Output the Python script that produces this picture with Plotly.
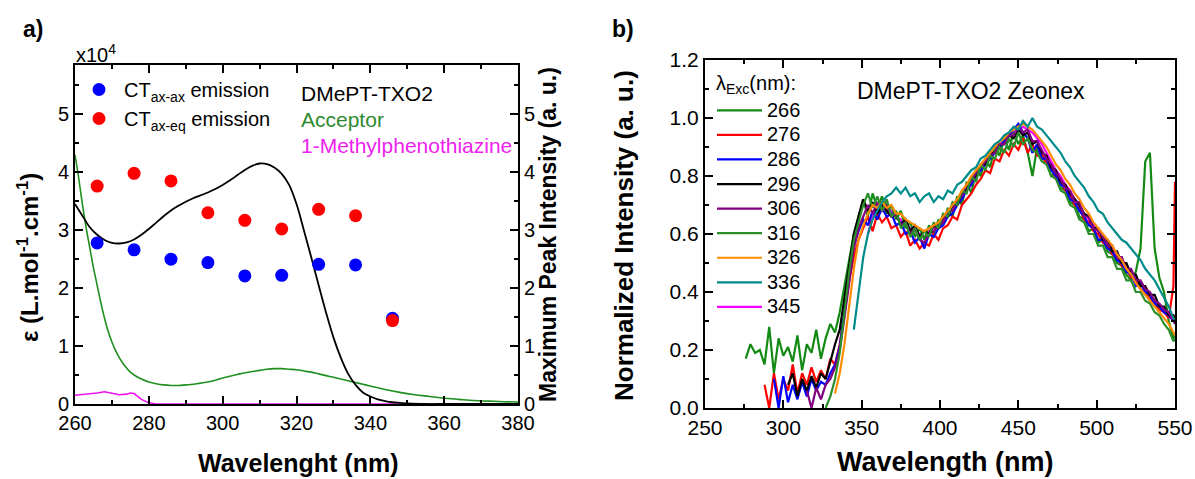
import plotly.graph_objects as go

# ---------------- Panel a data ----------------
txo2_wl = [260, 262, 264, 266, 268, 270, 272, 274, 276, 278, 280, 282, 284, 286, 288, 290, 292, 294, 296, 298,
           300, 302, 304, 306, 308, 310, 312, 314, 316, 318, 320, 322, 324, 326, 328, 330, 332, 334, 336, 338,
           340, 342, 344, 346, 348, 350, 355, 360, 370, 380]
txo2_eps = [3.45, 3.25, 3.05, 2.92, 2.83, 2.78, 2.77, 2.79, 2.84, 2.92, 3.02, 3.13, 3.24, 3.34, 3.42, 3.49, 3.55,
            3.60, 3.65, 3.71, 3.78, 3.86, 3.95, 4.04, 4.11, 4.15, 4.14, 4.08, 3.97, 3.78, 3.45, 3.00, 2.53, 2.05,
            1.58, 1.15, 0.80, 0.52, 0.33, 0.20, 0.13, 0.08, 0.05, 0.03, 0.02, 0.01, 0.0, 0.0, 0.0, 0.0]

acc_wl = [260, 261, 262, 263, 264, 265, 266, 267, 268, 269, 270, 271, 272, 273, 274, 275, 276,
          278, 280, 282, 284, 286, 288, 290, 292, 294, 296, 298, 300, 302, 304, 306, 308, 310, 312, 314, 316,
          318, 320, 322, 324, 326, 328, 330, 332, 334, 336, 338, 340,
          344, 348, 352, 356, 360, 364, 368, 372, 376, 380]
acc_eps = [4.30, 3.90, 3.45, 3.05, 2.70, 2.35, 2.05, 1.75, 1.48, 1.25, 1.07, 0.92, 0.80, 0.70, 0.62, 0.55, 0.50,
           0.43, 0.38, 0.35, 0.33, 0.32, 0.32, 0.33, 0.34, 0.36, 0.38, 0.41, 0.45, 0.48, 0.51, 0.54, 0.56, 0.58,
           0.60, 0.61, 0.61, 0.60, 0.59, 0.57, 0.55, 0.52, 0.49, 0.46, 0.43, 0.40, 0.37, 0.34, 0.31,
           0.25, 0.20, 0.16, 0.13, 0.10, 0.08, 0.06, 0.05, 0.04, 0.035]

mpt_wl = [260, 262, 264, 266, 268, 270, 272, 274, 275, 276, 277, 278, 279, 280, 282, 290, 300, 320, 340, 360, 380]
mpt_eps = [0.15, 0.16, 0.17, 0.19, 0.21, 0.19, 0.16, 0.17, 0.19, 0.18, 0.13, 0.08, 0.05, 0.02, 0.0, 0.0, 0.0,
           0.0, 0.0, 0.0, 0.0]

exc_wl = [266, 276, 286, 296, 306, 316, 326, 336, 346]
ct_axax = [2.78, 2.66, 2.50, 2.44, 2.21, 2.22, 2.41, 2.40, 1.48]
ct_axeq = [3.76, 3.98, 3.85, 3.30, 3.17, 3.02, 3.36, 3.25, 1.44]

# ---------------- Panel b data ----------------
wl_grid = list(range(276, 550, 3)) + [550]

em_266 = [0.17, 0.22, 0.19, 0.20, 0.15, 0.28, 0.12, 0.24, 0.18, 0.21, 0.16, 0.25, 0.13, 0.22, 0.19, 0.27, 0.17,
          0.24, 0.29, 0.26,
          0.33, 0.42, 0.52, 0.60, 0.66, 0.72, 0.66, 0.74, 0.69, 0.73, 0.67, 0.70, 0.65, 0.68, 0.62, 0.64, 0.59,
          0.62, 0.58, 0.63, 0.60, 0.65,
          0.63, 0.69, 0.66, 0.73, 0.70, 0.78, 0.74, 0.82, 0.80, 0.86, 0.83, 0.90, 0.87, 0.93, 0.89, 0.95, 0.91,
          0.94, 0.88, 0.80, 0.90, 0.86,
          0.85, 0.80, 0.81, 0.76, 0.75, 0.71, 0.70, 0.66, 0.65, 0.61, 0.62, 0.57, 0.58, 0.54, 0.53, 0.50, 0.49,
          0.46, 0.44, 0.47, 0.55, 0.85,
          0.88, 0.55, 0.45, 0.40, 0.30, 0.24, 0.26]
em_276 = [0.08, 0.00, 0.12, 0.03, 0.10, 0.06, 0.15, 0.05, 0.12, 0.08, 0.14, 0.09, 0.13, 0.10, 0.17, 0.15,
          0.22, 0.33, 0.44, 0.52, 0.58, 0.62, 0.66, 0.61, 0.67, 0.64, 0.66, 0.62, 0.63, 0.59, 0.61, 0.56, 0.58,
          0.55, 0.57, 0.56, 0.60, 0.58,
          0.62, 0.63, 0.66, 0.65, 0.70, 0.72, 0.74, 0.77, 0.79, 0.82, 0.81, 0.86, 0.85, 0.89, 0.87, 0.91, 0.89,
          0.93, 0.88, 0.91, 0.87, 0.88,
          0.84, 0.83, 0.79, 0.78, 0.75, 0.73, 0.70, 0.69, 0.65, 0.64, 0.61, 0.60, 0.57, 0.56, 0.53, 0.52, 0.49,
          0.48, 0.45, 0.44, 0.41, 0.40,
          0.38, 0.36, 0.34, 0.33, 0.31, 0.42, 0.78]
em_286 = [0.10, 0.00, 0.11, 0.02, 0.08, 0.03, 0.09, 0.04, 0.10, 0.06, 0.09, 0.08, 0.12, 0.15,
          0.21, 0.34, 0.46, 0.56, 0.61, 0.65, 0.63, 0.68, 0.65, 0.69, 0.66, 0.67, 0.63, 0.64, 0.60, 0.61, 0.57,
          0.59, 0.55, 0.60, 0.59, 0.62,
          0.63, 0.66, 0.67, 0.70, 0.72, 0.75, 0.77, 0.80, 0.82, 0.84, 0.86, 0.88, 0.90, 0.92, 0.94, 0.96, 0.98,
          0.95, 0.93, 0.88, 0.91, 0.86,
          0.86, 0.82, 0.80, 0.77, 0.76, 0.72, 0.71, 0.68, 0.66, 0.63, 0.62, 0.58, 0.58, 0.55, 0.54, 0.51, 0.50,
          0.47, 0.46, 0.42, 0.43, 0.40,
          0.39, 0.36, 0.35, 0.33, 0.32, 0.30, 0.30]
em_296 = [0.08, 0.12, 0.04, 0.10, 0.06, 0.11, 0.07, 0.12, 0.10, 0.16, 0.22,
          0.27, 0.38, 0.50, 0.60, 0.66, 0.72, 0.68, 0.71, 0.67, 0.70, 0.68, 0.66, 0.67, 0.63, 0.65, 0.61, 0.63,
          0.59, 0.61, 0.60, 0.63, 0.62,
          0.66, 0.66, 0.70, 0.70, 0.74, 0.75, 0.79, 0.80, 0.84, 0.84, 0.88, 0.88, 0.91, 0.91, 0.94, 0.93, 0.96,
          0.94, 0.95, 0.91, 0.92, 0.88,
          0.87, 0.83, 0.82, 0.78, 0.77, 0.74, 0.72, 0.70, 0.67, 0.66, 0.62, 0.62, 0.58, 0.58, 0.54, 0.54, 0.50,
          0.50, 0.46, 0.46, 0.42, 0.42,
          0.39, 0.39, 0.35, 0.35, 0.32, 0.32, 0.31]
em_306 = [0.06, 0.00, 0.07, 0.03, 0.08, 0.10, 0.14,
          0.20, 0.31, 0.44, 0.55, 0.62, 0.66, 0.70, 0.67, 0.71, 0.68, 0.70, 0.66, 0.67, 0.63, 0.64, 0.60, 0.62,
          0.58, 0.57, 0.60, 0.61, 0.63,
          0.64, 0.68, 0.68, 0.72, 0.73, 0.77, 0.78, 0.81, 0.83, 0.85, 0.87, 0.88, 0.91, 0.91, 0.94, 0.94, 0.97,
          0.95, 0.96, 0.92, 0.92, 0.89,
          0.86, 0.84, 0.81, 0.79, 0.76, 0.75, 0.71, 0.71, 0.66, 0.66, 0.62, 0.61, 0.59, 0.56, 0.56, 0.52, 0.52,
          0.48, 0.48, 0.44, 0.44, 0.41,
          0.40, 0.37, 0.36, 0.34, 0.33, 0.30, 0.29]
em_316 = [0.00, 0.04, 0.10,
          0.19, 0.33, 0.47, 0.58, 0.64, 0.70, 0.74, 0.69, 0.73, 0.68, 0.72, 0.66, 0.68, 0.62, 0.64, 0.59, 0.62,
          0.58, 0.61, 0.59, 0.64, 0.62,
          0.67, 0.66, 0.71, 0.70, 0.75, 0.74, 0.80, 0.78, 0.84, 0.82, 0.87, 0.86, 0.90, 0.88, 0.93, 0.90, 0.95,
          0.91, 0.93, 0.89, 0.88, 0.85,
          0.84, 0.80, 0.79, 0.75, 0.74, 0.70, 0.69, 0.65, 0.64, 0.60, 0.60, 0.56, 0.56, 0.52, 0.52, 0.48, 0.48,
          0.44, 0.44, 0.40, 0.40, 0.37,
          0.36, 0.33, 0.32, 0.29, 0.27, 0.23, 0.24]
em_326 = [0.05,
          0.12, 0.22, 0.36, 0.48, 0.58, 0.63, 0.67, 0.70, 0.69, 0.71, 0.69, 0.70, 0.67, 0.67, 0.65, 0.64, 0.63,
          0.62, 0.61, 0.62, 0.63, 0.64,
          0.66, 0.68, 0.70, 0.72, 0.75, 0.77, 0.80, 0.82, 0.84, 0.86, 0.88, 0.90, 0.92, 0.93, 0.95, 0.96, 0.97,
          0.98, 0.97, 0.96, 0.94, 0.92,
          0.90, 0.87, 0.84, 0.82, 0.79, 0.77, 0.74, 0.72, 0.69, 0.67, 0.64, 0.62, 0.60, 0.58, 0.56, 0.53, 0.51,
          0.48, 0.46, 0.43, 0.41, 0.39,
          0.37, 0.35, 0.33, 0.31, 0.29, 0.26, 0.25]
em_336 = [0.27, 0.40, 0.52, 0.60, 0.65, 0.68, 0.71, 0.73, 0.74, 0.76, 0.74, 0.76, 0.73, 0.74, 0.71, 0.73, 0.74,
          0.71, 0.73,
          0.72, 0.75, 0.74, 0.77, 0.78, 0.80, 0.82, 0.83, 0.86, 0.87, 0.89, 0.91, 0.92, 0.94, 0.95, 0.97, 0.96,
          0.99, 0.97, 1.00, 0.97, 0.96,
          0.94, 0.92, 0.90, 0.88, 0.85, 0.83, 0.80, 0.78, 0.76, 0.73, 0.71, 0.68, 0.67, 0.64, 0.62, 0.60, 0.58,
          0.57, 0.55, 0.53, 0.51, 0.48,
          0.46, 0.44, 0.41, 0.38, 0.35, 0.31, 0.30]
em_345 = [0.60, 0.66, 0.69, 0.70, 0.69, 0.68, 0.66, 0.65, 0.63, 0.62, 0.61, 0.60, 0.59, 0.61, 0.62, 0.63,
          0.65, 0.67, 0.69, 0.71, 0.74, 0.76, 0.79, 0.81, 0.83, 0.85, 0.87, 0.89, 0.91, 0.92, 0.94, 0.95, 0.96,
          0.97, 0.96, 0.95, 0.93, 0.91,
          0.88, 0.85, 0.82, 0.80, 0.77, 0.75, 0.72, 0.70, 0.67, 0.65, 0.63, 0.61, 0.59, 0.57, 0.55, 0.53, 0.51,
          0.49, 0.47, 0.45, 0.43, 0.41,
          0.39, 0.37, 0.35, 0.34, 0.32, 0.30, 0.30]

exc_labels = ["266", "276", "286", "296", "306", "316", "326", "336", "345"]
exc_series = [em_266, em_276, em_286, em_296, em_306, em_316, em_326, em_336, em_345]
exc_colors = ["#138a13", "#ff0000", "#0000ff", "#000000", "#800080", "#2a8f2a", "#ff8c00", "#008b8b", "#ff00ff"]

FONT = "Liberation Sans, Arial, sans-serif"
W, H = 1195, 479


def px(xp):
    return xp / W


def py(yp):
    return 1 - yp / H


fig = go.Figure()

# Panel a curves
fig.add_trace(go.Scatter(x=acc_wl, y=acc_eps, mode="lines", line=dict(color="#1f8f1f", width=1.6, shape="spline"),
                         showlegend=False, xaxis="x", yaxis="y"))
fig.add_trace(go.Scatter(x=mpt_wl, y=mpt_eps, mode="lines", line=dict(color="#ee11ee", width=1.6),
                         showlegend=False, xaxis="x", yaxis="y"))
fig.add_trace(go.Scatter(x=txo2_wl, y=txo2_eps, mode="lines", line=dict(color="#000000", width=1.8, shape="spline"),
                         showlegend=False, xaxis="x", yaxis="y"))
fig.add_trace(go.Scatter(x=exc_wl, y=ct_axax, mode="markers", marker=dict(color="#0000ff", size=13),
                         name="CT<sub>ax-ax</sub> emission", legend="legend2", xaxis="x", yaxis="y2"))
fig.add_trace(go.Scatter(x=exc_wl, y=ct_axeq, mode="markers", marker=dict(color="#ff0000", size=13),
                         name="CT<sub>ax-eq</sub> emission", legend="legend2", xaxis="x", yaxis="y2"))

# Panel b curves (magenta drawn first, underneath)
draw_order = [8, 0, 1, 2, 3, 4, 5, 6, 7]
for i in draw_order:
    vals = exc_series[i]
    fig.add_trace(go.Scatter(x=wl_grid[-len(vals):], y=vals, mode="lines",
                             line=dict(color=exc_colors[i], width=2.2),
                             name='<span style="font-size:20px">' + exc_labels[i] + '</span>',
                             legend="legend", legendrank=i + 1, xaxis="x2", yaxis="y3"))

tick_common = dict(ticks="inside", tickwidth=2, ticklen=8, tickcolor="black", showline=True, linewidth=2,
                   linecolor="black", showgrid=False, zeroline=False, automargin=False)

fig.update_layout(
    width=W, height=H, autosize=False,
    margin=dict(l=0, r=0, t=0, b=0, pad=0),
    paper_bgcolor="white", plot_bgcolor="white",
    font=dict(family=FONT, color="black"),
    xaxis=dict(domain=[px(75), px(518)], range=[260, 380], tick0=260, dtick=20, anchor="y", mirror="ticks",
               tickfont=dict(size=20, family=FONT),
               minor=dict(dtick=10, ticklen=4, tickwidth=1.5, ticks="inside", tickcolor="black"),
               **tick_common),
    yaxis=dict(domain=[py(404), py(65)], range=[0, 5.85], tick0=0, dtick=1, anchor="x",
               tickfont=dict(size=20, family=FONT),
               minor=dict(dtick=0.5, ticklen=4, tickwidth=1.5, ticks="inside", tickcolor="black"),
               **tick_common),
    yaxis2=dict(overlaying="y", side="right", range=[0, 5.85], tick0=0, dtick=1, anchor="x",
                tickfont=dict(size=20, family=FONT),
                minor=dict(dtick=0.5, ticklen=4, tickwidth=1.5, ticks="inside", tickcolor="black"),
                **tick_common),
    xaxis2=dict(domain=[px(705), px(1175)], range=[250, 550], tick0=250, dtick=50, anchor="y3", mirror="ticks",
                tickfont=dict(size=21, family=FONT),
                minor=dict(dtick=25, ticklen=4, tickwidth=1.5, ticks="inside", tickcolor="black"),
                **tick_common),
    yaxis3=dict(domain=[py(408), py(60)], range=[0, 1.2], tick0=0, dtick=0.2, tickformat=".1f", anchor="x2",
                mirror="ticks", tickfont=dict(size=21, family=FONT),
                minor=dict(dtick=0.1, ticklen=4, tickwidth=1.5, ticks="inside", tickcolor="black"),
                **tick_common),
    legend=dict(x=px(712), y=py(93), xanchor="left", yanchor="top", bgcolor="rgba(0,0,0,0)",
                font=dict(size=16.6, family=FONT, color="black"), itemwidth=45, tracegroupgap=0),
    legend2=dict(x=px(74), y=py(70), xanchor="left", yanchor="top", bgcolor="rgba(0,0,0,0)",
                 font=dict(size=20, family=FONT, color="black"), itemwidth=40),
)

ann = [
    dict(text="<b>a)</b>", x=px(21), y=py(29), xanchor="left", yanchor="middle", font=dict(size=23)),
    dict(text="<b>b)</b>", x=px(610), y=py(29), xanchor="left", yanchor="middle", font=dict(size=23)),
    dict(text="x10<sup>4</sup>", x=px(74), y=py(53), xanchor="left", yanchor="middle", font=dict(size=20)),
    dict(text="λ<sub>Exc</sub>(nm):", x=px(714), y=py(84), xanchor="left", yanchor="middle",
         font=dict(size=20)),
    dict(text="DMePT-TXO2", x=px(299), y=py(93), xanchor="left", yanchor="middle",
         font=dict(size=21, color="black")),
    dict(text="Acceptor", x=px(299), y=py(119), xanchor="left", yanchor="middle",
         font=dict(size=21, color="#2e8b2e")),
    dict(text="1-Methylphenothiazine", x=px(299), y=py(145), xanchor="left", yanchor="middle",
         font=dict(size=21, color="#ee22ee")),
    dict(text="DMePT-TXO2 Zeonex", x=px(855), y=py(91), xanchor="left", yanchor="middle",
         font=dict(size=23, color="black")),
    dict(text="<b>Wavelenght (nm)</b>", x=px(298), y=py(463), xanchor="center", yanchor="middle",
         font=dict(size=25)),
    dict(text="<b>Wavelength (nm)</b>", x=px(945), y=py(462), xanchor="center", yanchor="middle",
         font=dict(size=27)),
    dict(text="<b>ε (L.mol<sup>-1</sup>.cm<sup>-1</sup>)</b>", x=px(28), y=py(258), xanchor="center",
         yanchor="middle", textangle=-90, font=dict(size=24)),
    dict(text="<b>Maximum Peak Intensity (a. u.)</b>", x=px(548), y=py(235), xanchor="center",
         yanchor="middle", textangle=-90, font=dict(size=23)),
    dict(text="<b>Normalized Intensity (a. u.)</b>", x=px(624), y=py(236), xanchor="center",
         yanchor="middle", textangle=-90, font=dict(size=26)),
]
for a in ann:
    a.setdefault("showarrow", False)
    a["xref"] = "paper"
    a["yref"] = "paper"
    a["font"] = dict(family=FONT, color=a["font"].get("color", "black"), size=a["font"]["size"])
fig.update_layout(annotations=ann)

fig.write_html("out.html", config={"displayModeBar": False},
               post_script="document.body.style.margin='0';document.body.style.overflow='hidden';")
